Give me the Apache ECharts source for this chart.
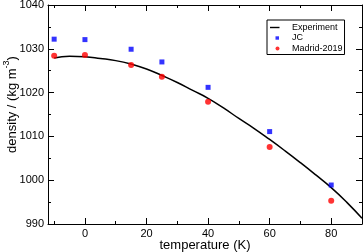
<!DOCTYPE html>
<html>
<head>
<meta charset="utf-8">
<script src="https://cdn.jsdelivr.net/npm/echarts@6/dist/echarts.min.js"></script>
<style>html,body{margin:0;padding:0;background:#fff}#c{width:364px;height:252px}</style>
</head>
<body>
<div id="c"></div>
<script>
var temps = [-10, 0, 15, 25, 40, 60, 80];
var jcValues = [1032.2, 1032.1, 1029.9, 1027.0, 1021.2, 1011.1, 998.9];
var madridValues = [1028.4, 1028.6, 1026.3, 1023.6, 1017.9, 1007.6, 995.3];
var expTemps = [-10, -5, 0, 5, 10, 15, 20, 25, 30, 35, 40, 45, 50, 55, 60, 65, 70, 75, 80, 85, 90];
var expValues = [1027.9, 1028.3, 1028.2, 1027.8, 1027.3, 1026.5, 1025.4, 1023.9, 1022.3, 1020.5, 1018.7, 1016.5, 1014.1, 1011.8, 1009.3, 1006.7, 1004.0, 1001.2, 998.3, 995.0, 991.3];
var xMajorTicks = [0, 20, 40, 60, 80];
var xMinorTicks = [-10, 10, 30, 50, 70, 90];

function pairs(xs, ys) { return xs.map(function (x, i) { return [x, ys[i]]; }); }

var FONT = 'Liberation Sans';
var black = '#000';
function plain(v) { return String(v); }
function xAxisDef(pos, ticks, len, showLine, labels) {
  return {
    type: 'value', position: pos, min: -12, max: 90,
    axisLine: { show: showLine, onZero: false, lineStyle: { color: black, width: 1 } },
    axisTick: { show: true, inside: true, length: len, customValues: ticks, lineStyle: { color: black, width: 1 } },
    axisLabel: labels ? { show: true, customValues: ticks, formatter: plain, fontSize: 11, color: black, fontFamily: FONT, margin: 4 } : { show: false },
    splitLine: { show: false }
  };
}
function yAxisDef(pos, labels) {
  return {
    type: 'value', position: pos, min: 990, max: 1040, interval: 10,
    axisLine: { show: true, onZero: false, lineStyle: { color: black, width: 1 } },
    axisTick: { show: true, inside: true, length: 6, lineStyle: { color: black, width: 1 } },
    minorTick: { show: true, splitNumber: 2, length: 3, lineStyle: { color: black, width: 1 } },
    axisLabel: labels ? { show: true, formatter: plain, fontSize: 11, color: black, fontFamily: FONT, margin: 4 } : { show: false },
    splitLine: { show: false }, minorSplitLine: { show: false }
  };
}

var x0 = xAxisDef('bottom', xMajorTicks, 6, true, true);
x0.name = 'temperature (K)';
x0.nameLocation = 'middle';
x0.nameGap = 15;
x0.nameMoveOverlap = false;
x0.nameTextStyle = { fontSize: 13, color: black, fontFamily: FONT };
var y0 = yAxisDef('left', true);
y0.name = '{a|density / (kg m}{s|-3}{a|)}';
y0.nameLocation = 'middle';
y0.nameRotate = 90;
y0.nameGap = 29;
y0.nameMoveOverlap = false;
y0.nameTextStyle = {
  color: black, fontFamily: FONT, padding: [0, 0, 0, 20],
  rich: {
    a: { fontSize: 13, color: black, fontFamily: FONT, verticalAlign: 'bottom' },
    s: { fontSize: 9, color: black, fontFamily: FONT, verticalAlign: 'bottom', padding: [0, 0, 8, 0] }
  }
};

var chart = echarts.init(document.getElementById('c'), null, { renderer: 'canvas' });
chart.setOption({
  animation: false,
  backgroundColor: '#fff',
  grid: { left: 48, right: 2, top: 5, bottom: 28, containLabel: false, outerBoundsMode: 'none' },
  xAxis: [x0,
    xAxisDef('bottom', xMinorTicks, 3, false, false),
    xAxisDef('top', xMajorTicks, 6, true, false),
    xAxisDef('top', xMinorTicks, 3, false, false)],
  yAxis: [y0, yAxisDef('right', false)],
  legend: {
    orient: 'vertical', left: 267, top: 20,
    padding: [2.5, 2, 1, 3],
    itemGap: 0.5, itemWidth: 10, itemHeight: 8,
    borderColor: black, borderWidth: 1, backgroundColor: '#fff',
    textStyle: { fontSize: 9, color: black, fontFamily: FONT, lineHeight: 10, padding: [0, 0, 0, 7] },
    data: [
      { name: 'Experiment', icon: 'path://M0,0 M10,8 M0,3.3 L9.5,3.3 L9.5,4.7 L0,4.7 Z' },
      { name: 'JC', icon: 'path://M0,0 M10,8 M5.5,2.3 L9,2.3 L9,5.7 L5.5,5.7 Z' },
      { name: 'Madrid-2019', icon: 'path://M0,0 M10,8 M5.5,4 A2,2 0 1,1 9.5,4 A2,2 0 1,1 5.5,4 Z' }
    ]
  },
  series: [
    { name: 'Experiment', type: 'line', data: pairs(expTemps, expValues), smooth: true, symbol: 'none', showSymbol: false,
      color: black, lineStyle: { color: black, width: 1.5 }, z: 2 },
    { name: 'JC', type: 'scatter', data: pairs(temps, jcValues), symbol: 'rect', symbolSize: 5, color: '#0000ff',
      itemStyle: { color: '#0000ff' }, z: 3 },
    { name: 'Madrid-2019', type: 'scatter', data: pairs(temps, madridValues), symbol: 'circle', symbolSize: 6, color: '#ff0000',
      itemStyle: { color: '#ff0000' }, z: 4 }
  ]
});
</script>
</body>
</html>
